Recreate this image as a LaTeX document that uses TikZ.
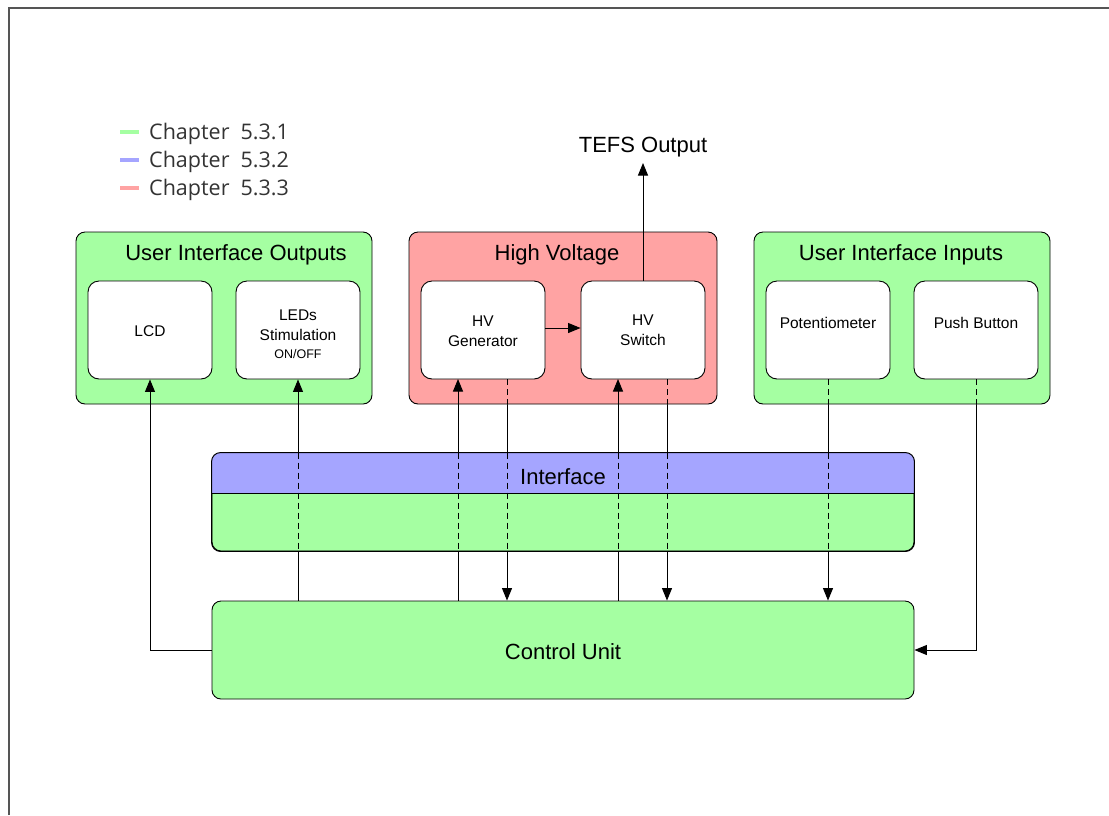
\documentclass[tikz,border=0pt]{standalone}
\usepackage{fontspec}
\setmainfont{Liberation Sans}
\newfontfamily\legendfont{Open Sans}
\usetikzlibrary{arrows.meta}
\pgfdeclarelayer{bg}
\pgfsetlayers{bg,main}
\definecolor{boxgreen}{RGB}{165,255,162}
\definecolor{boxred}{RGB}{255,163,163}
\definecolor{boxblue}{RGB}{165,165,255}
\definecolor{framegray}{RGB}{85,85,85}
\begin{document}
\begin{tikzpicture}[x=1pt,y=-1pt,
  groupbox/.style={draw=black, line width=0.9pt, rounded corners=9pt, minimum height=172pt, inner sep=0pt},
  innerbox/.style={draw=black, fill=white, line width=0.9pt, rounded corners=11pt, minimum width=124pt, minimum height=98pt, inner sep=0pt},
  widebox/.style={draw=black, fill=boxgreen, line width=0.9pt, rounded corners=9pt, minimum width=702pt, minimum height=98pt, inner sep=0pt},
  grouptitle/.style={font=\fontsize{22}{26}\selectfont, inner sep=0pt},
  boxtext/.style={font=\fontsize{15.5}{19.5}\selectfont, align=center, inner sep=0pt},
  conn/.style={line width=1pt, draw=black},
  arr/.style={conn, -{Triangle[length=12.5pt,width=10pt]}},
  dashseg/.style={conn, dash pattern=on 6pt off 4pt},
  legendtext/.style={font=\legendfont\fontsize{21.5}{24}\selectfont, text=black!80, anchor=west, inner sep=0pt},
  legendline/.style={line width=3.5pt}
]
\useasboundingbox (0,0) rectangle (1109,815);
% frame
\draw[framegray, line width=1.3pt] (9,815) -- (9,8) -- (1109,8);

% legend
\coordinate (lg1a) at (120,132); \coordinate (lg1b) at (139,132);
\coordinate (lg2a) at (120,160); \coordinate (lg2b) at (139,160);
\coordinate (lg3a) at (120,188); \coordinate (lg3b) at (139,188);
\draw[legendline, boxgreen] (lg1a) -- (lg1b);
\draw[legendline, boxblue] (lg2a) -- (lg2b);
\draw[legendline, boxred] (lg3a) -- (lg3b);
\node[legendtext] (lt1) at (149,134) {Chapter\ \ 5.3.1};
\node[legendtext] (lt2) at (149,162) {Chapter\ \ 5.3.2};
\node[legendtext] (lt3) at (149,190) {Chapter\ \ 5.3.3};

% group boxes
\node[groupbox, fill=boxgreen, minimum width=296pt] (uio) at (224,318) {};
\node[groupbox, fill=boxred, minimum width=308pt] (hv) at (563,318) {};
\node[groupbox, fill=boxgreen, minimum width=296pt] (uii) at (902,318) {};
\node[grouptitle] (uiot) at (236,255) {User Interface Outputs};
\node[grouptitle] (hvt) at (557,255) {High Voltage};
\node[grouptitle] (uiit) at (901,255) {User Interface Inputs};

% inner boxes
\node[innerbox] (lcd) at (150,330) {};
\node[innerbox] (leds) at (298,330) {};
\node[innerbox] (hvg) at (483,330) {};
\node[innerbox] (hvs) at (643,330) {};
\node[innerbox] (pot) at (828,330) {};
\node[innerbox] (pb) at (976,330) {};
\node[boxtext] at (150,331) {LCD};
\node[boxtext] at (298,334) {LEDs\\Stimulation\\[-1.5pt]{\fontsize{12.5}{15}\selectfont ON/OFF}};
\node[boxtext] at (483,331) {HV\\Generator};
\node[boxtext] at (643,330) {HV\\Switch};
\node[boxtext] at (828,323) {Potentiometer};
\node[boxtext] at (976,323) {Push Button};

% control unit
\node[widebox] (cu) at (563,650) {};
\node[grouptitle] at (563,652) {Control Unit};

% connector x positions
\coordinate (hvgUp) at (458,379);
\coordinate (hvgDn) at (507,379);
\coordinate (hvsUp) at (618,379);
\coordinate (hvsDn) at (667,379);

% TEFS output
\node[grouptitle] (tefs) at (643,147) {TEFS Output};
\coordinate (tefsTip) at (643,163);
\draw[arr] (hvs.north) -- (tefsTip);
\draw[arr] (hvg.east |- 0,328) -- (hvs.west |- 0,328);

% downward connectors (behind boxes)
\begin{pgfonlayer}{bg}
\draw[arr] (hvgDn) -- (hvgDn |- cu.north);
\draw[arr] (hvsDn) -- (hvsDn |- cu.north);
\draw[arr] (pot.south) -- (pot.south |- cu.north);
\draw[arr] (pb.south) |- (cu.east);
\end{pgfonlayer}
% dashed segments inside group boxes
\draw[dashseg] (hvgDn) -- (hvgDn |- hv.south);
\draw[dashseg] (hvsDn) -- (hvsDn |- hv.south);
\draw[dashseg] (pot.south) -- (pot.south |- uii.south);
\draw[dashseg] (pb.south) -- (pb.south |- uii.south);

% upward connectors
\draw[arr] (cu.west) -| (lcd.south);
\draw[arr] (leds.south |- cu.north) -- (leds.south);
\draw[arr] (hvgUp |- cu.north) -- (hvgUp);
\draw[arr] (hvsUp |- cu.north) -- (hvsUp);

% interface block
\node[widebox] (iface) at (563,502) {};
\begin{scope}
  \clip (212,453) rectangle (914,493);
  \fill[boxblue, rounded corners=9pt] (iface.north west) rectangle (iface.south east);
\end{scope}
\draw[conn] (iface.west |- 0,493) -- (iface.east |- 0,493);
\draw[conn, rounded corners=9pt] (iface.north west) rectangle (iface.south east);
\draw[dashseg] (leds.south |- iface.north) -- (leds.south |- iface.south);
\draw[dashseg] (hvgUp |- iface.north) -- (hvgUp |- iface.south);
\draw[dashseg] (hvgDn |- iface.north) -- (hvgDn |- iface.south);
\draw[dashseg] (hvsUp |- iface.north) -- (hvsUp |- iface.south);
\draw[dashseg] (hvsDn |- iface.north) -- (hvsDn |- iface.south);
\draw[dashseg] (pot.south |- iface.north) -- (pot.south |- iface.south);
\node[grouptitle] (ifacet) at (563,477) {Interface};
\end{tikzpicture}
\end{document}
